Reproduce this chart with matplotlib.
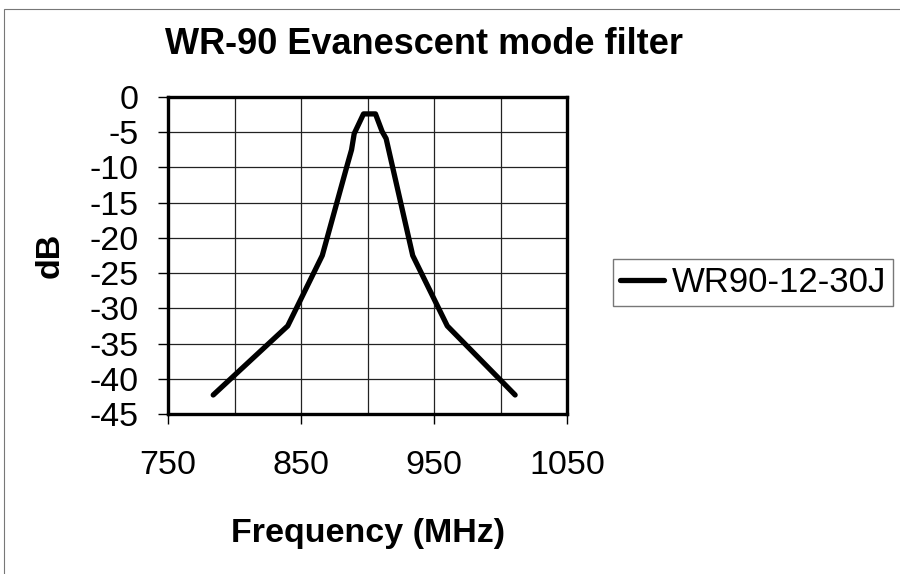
import matplotlib.pyplot as plt
from matplotlib.patches import Rectangle

# measured response of the WR90-12-30J evanescent mode filter
freq_mhz = [784, 840, 866, 885, 888, 890, 897, 906, 911, 914, 934, 960, 1011]
loss_db = [-42.3, -32.5, -22.5, -9.5, -7.5, -5.2, -2.4, -2.4, -4.9, -5.9, -22.5, -32.5, -42.3]
series_name = "WR90-12-30J"

x_ticks = [750, 850, 950, 1050]
x_grid = [800, 900, 1000]
y_ticks = list(range(0, -50, -5))

plt.rcParams["font.family"] = ["Liberation Sans", "DejaVu Sans"]
plt.rcParams["axes.unicode_minus"] = False

W, H = 900, 574
fig = plt.figure(figsize=(W / 100, H / 100), dpi=100)
ax = fig.add_axes([168 / W, 1 - 414 / H, 399 / W, 317 / H])

line, = ax.plot(freq_mhz, loss_db, color="black", linewidth=3.8,
                solid_joinstyle="round", solid_capstyle="round", zorder=3)

ax.set_xlim(750, 1050)
ax.set_ylim(-45, 0)
ax.set_xticks(x_ticks)
ax.set_xticks(x_grid, minor=True)
ax.set_yticks(y_ticks)
ax.grid(True, which="both", color="#222222", linewidth=0.9)
ax.tick_params(axis="both", which="major", labelsize=24.5, length=7, width=1, direction="out")
ax.tick_params(axis="x", which="major", pad=19)
ax.tick_params(axis="y", which="major", pad=14)
ax.tick_params(axis="x", which="minor", length=0)
for s in ax.spines.values():
    s.set_linewidth(2.4)
ax.set_axisbelow(True)

fig.text(165 / W, 1 - 54 / H, "WR-90 Evanescent mode filter", fontsize=26,
         fontweight="bold", ha="left", va="baseline")
fig.text(368.5 / W, 1 - 542 / H, "Frequency (MHz)", fontsize=24.5,
         fontweight="bold", ha="center", va="baseline")
fig.text(50.5 / W, 1 - 255.5 / H, "dB", fontsize=24.5, fontweight="bold",
         ha="center", va="center", rotation=90)

leg = fig.legend([line], [series_name], loc="center left",
                 bbox_to_anchor=(613 / W, 1 - 282.5 / H), fontsize=25,
                 frameon=True, fancybox=False, borderpad=0.2, handlelength=1.27,
                 handletextpad=0.23, borderaxespad=0)
leg.get_frame().set_edgecolor("#555555")
leg.get_frame().set_linewidth(1.0)

# thin outer border of the chart area
fig.patches.append(Rectangle((4 / W, -0.05), 1.0, 1 - 9 / H + 0.05,
                             transform=fig.transFigure, fill=False,
                             edgecolor="#777777", linewidth=0.8))

fig.savefig("out.png", dpi=100)
